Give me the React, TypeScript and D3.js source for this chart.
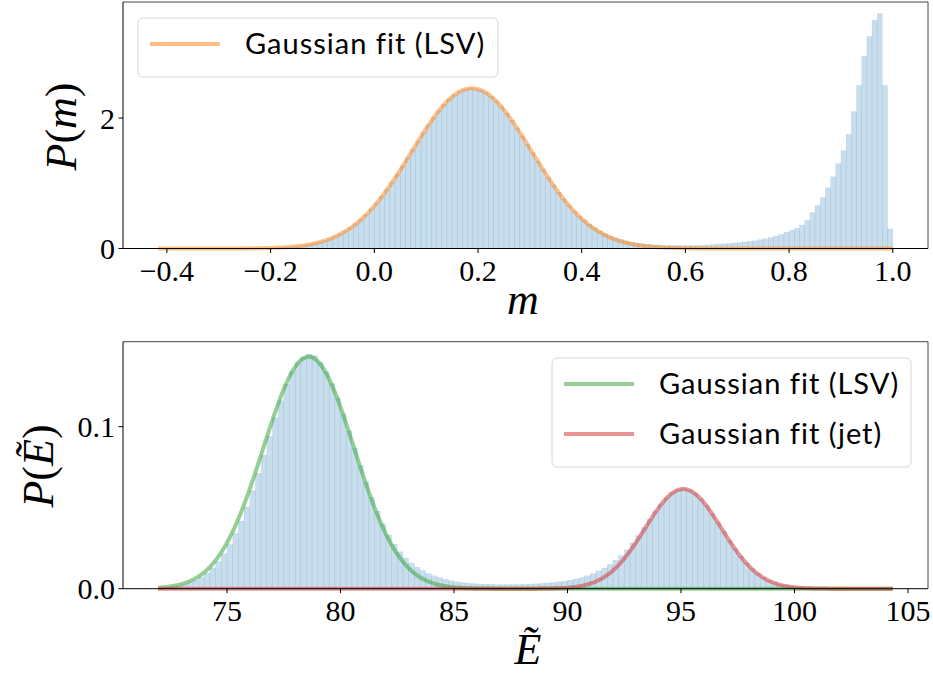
import React from 'react';
import * as d3 from 'd3';

// ---------- data ----------
// Top panel: histogram of m (bin width 0.01 from -0.42)
const mBinStart = -0.42;
const mBinWidth = 0.01;
const mDensity = [
  0, 0, 0, 0, 0, 0, 0, 0, 0, 0, 0, 0, 0, 0, 0, 0,
  0.002, 0.002, 0.003, 0.004, 0.006, 0.008, 0.010, 0.013, 0.018, 0.023,
  0.030, 0.039, 0.049, 0.062, 0.079, 0.098, 0.122, 0.150, 0.184, 0.223,
  0.269, 0.321, 0.381, 0.449, 0.524, 0.608, 0.700, 0.799, 0.907, 1.021,
  1.141, 1.265, 1.393, 1.521, 1.649, 1.775, 1.896, 2.010, 2.116, 2.210,
  2.291, 2.357, 2.406, 2.440, 2.455, 2.450, 2.428, 2.389, 2.332, 2.260,
  2.173, 2.075, 1.966, 1.849, 1.726, 1.599, 1.470, 1.341, 1.215, 1.092,
  0.975, 0.863, 0.759, 0.662, 0.573, 0.493,
  0.440, 0.376, 0.319, 0.269, 0.229, 0.192, 0.162, 0.137, 0.116, 0.099,
  0.085, 0.074, 0.065, 0.058, 0.053, 0.049, 0.046, 0.044, 0.044, 0.043,
  0.044, 0.045, 0.047, 0.051, 0.055, 0.060, 0.065, 0.070, 0.077, 0.085,
  0.092, 0.100, 0.110, 0.120, 0.135, 0.150, 0.170, 0.190, 0.215, 0.250,
  0.280, 0.310, 0.360, 0.430, 0.550, 0.660, 0.780, 0.930, 1.100, 1.300,
  1.500, 1.750, 2.100, 2.500, 2.950, 3.250, 3.500, 3.600, 2.500, 0.300,
];
// Gaussian fit (LSV) for m: [mean, sigma, amplitude], drawn over [min, max]
const mFitLSV = [0.188, 0.1155, 2.455];
const mFitRange = [-0.417, 1.0];
const mTicks = [-0.4, -0.2, 0.0, 0.2, 0.4, 0.6, 0.8, 1.0];
const mYTicks = [0, 2];

// Bottom panel: histogram of E~ (bin width 0.25 from 72.0)
const eBinStart = 72.0;
const eBinWidth = 0.25;
const eDensity = [
  0.0005, 0.0008, 0.0012, 0.0018,
  0.0026, 0.0037, 0.0052, 0.0072,
  0.0097, 0.0129, 0.0168, 0.0216,
  0.0273, 0.0340, 0.0418, 0.0505,
  0.0605, 0.0712, 0.0825, 0.0940,
  0.1055, 0.1160, 0.1262, 0.1340,
  0.1395, 0.1430, 0.1448, 0.1438,
  0.1398, 0.1340, 0.1266, 0.1178,
  0.1080, 0.0975, 0.0868, 0.0762,
  0.0660, 0.0565, 0.0478, 0.0400,
  0.0332, 0.0275, 0.0228, 0.0190,
  0.0158, 0.0133, 0.0112, 0.0095,
  0.0080, 0.0068, 0.0058, 0.0050,
  0.0043, 0.0038, 0.0034, 0.0031,
  0.0029, 0.0027, 0.0026, 0.0025,
  0.0025, 0.0025, 0.0025, 0.0026,
  0.0027, 0.0028, 0.0030, 0.0032,
  0.0035, 0.0038, 0.0042, 0.0047,
  0.0053, 0.0060, 0.0068, 0.0080,
  0.0093, 0.0110, 0.0128, 0.0150,
  0.0175, 0.0205, 0.0240, 0.0282,
  0.0328, 0.0378, 0.0428, 0.0477,
  0.0524, 0.0563, 0.0594, 0.0612,
  0.0618, 0.0609, 0.0588, 0.0555,
  0.0513, 0.0463, 0.0409, 0.0354,
  0.0299, 0.0248, 0.0201, 0.0160,
  0.0125, 0.0095, 0.0071, 0.0052,
  0.0038, 0.0027, 0.0019, 0.0013,
  0.0009, 0.0006, 0.0004, 0.0003,
  0.0002, 0.0001, 0.0001, 0.0001,
  0.0001, 0, 0, 0,
  0, 0, 0, 0,
  0,
];
const eFitLSV = [78.6, 2.0, 0.1432];
const eFitJet = [95.1, 1.68, 0.0615];
const eFitRange = [71.97, 104.33];
const eTicks = [75, 80, 85, 90, 95, 100, 105];
const eYTicks = [0.0, 0.1];

const legendTop = ['Gaussian fit (LSV)'];
const legendBottom = ['Gaussian fit (LSV)', 'Gaussian fit (jet)'];

// ---------- styles ----------
const HIST_FILL = '#1f77b4';
const C_ORANGE = '#ff7f0e';
const C_GREEN = '#2ca02c';
const C_RED = '#d62728';
const SERIF = '"Liberation Serif", "DejaVu Serif", serif';
const SANS = 'Lato, "Open Sans", "DejaVu Sans", sans-serif';

function gaussPoints(params: number[], range: number[], n = 500) {
  const [mu, sd, amp] = params;
  const pts: [number, number][] = [];
  for (let i = 0; i <= n; i++) {
    const x = range[0] + ((range[1] - range[0]) * i) / n;
    pts.push([x, amp * Math.exp(-((x - mu) * (x - mu)) / (2 * sd * sd))]);
  }
  return pts;
}

type PanelProps = {
  x: d3.ScaleLinear<number, number>;
  y: d3.ScaleLinear<number, number>;
  binStart: number;
  binWidth: number;
  density: number[];
  fits: { params: number[]; color: string }[];
  fitRange: number[];
  xTicks: number[];
  xFmt: (v: number) => string;
  yTicks: number[];
  yFmt: (v: number) => string;
};

function Panel(p: PanelProps) {
  const [x0, x1] = p.x.range();
  const [yb, yt] = p.y.range();
  const line = d3
    .line<[number, number]>()
    .x((d) => p.x(d[0]))
    .y((d) => p.y(d[1]));
  return (
    <g>
      {p.density.map((v, i) => {
        const a = p.binStart + i * p.binWidth;
        const b = a + p.binWidth;
        const top = p.y(v);
        return (
          <rect
            key={i}
            x={p.x(a)}
            y={top}
            width={p.x(b) - p.x(a)}
            height={Math.max(0, yb - top)}
            fill={HIST_FILL}
            fillOpacity={0.24}
            stroke={HIST_FILL}
            strokeOpacity={0.12}
            strokeWidth={0.6}
          />
        );
      })}
      {p.fits.map((f, i) => (
        <path
          key={i}
          d={line(gaussPoints(f.params, p.fitRange)) || ''}
          fill="none"
          stroke={f.color}
          strokeOpacity={0.5}
          strokeWidth={4}
          strokeLinejoin="round"
        />
      ))}
      {/* spines */}
      <line x1={x0} x2={x1} y1={yt} y2={yt} stroke="#444" strokeWidth={1} />
      <line x1={x1} x2={x1} y1={yt} y2={yb} stroke="#444" strokeWidth={1} />
      <line x1={x0} x2={x0} y1={yt} y2={yb} stroke="#000" strokeWidth={1} />
      <line x1={x0} x2={x1} y1={yb} y2={yb} stroke="#000" strokeWidth={1} />
      {p.xTicks.map((t) => (
        <g key={'x' + t}>
          <line x1={p.x(t)} x2={p.x(t)} y1={yb} y2={yb + 4.5} stroke="#000" strokeWidth={1} />
          <text
            x={p.x(t)}
            y={yb + 32}
            textAnchor="middle"
            fontFamily={SERIF}
            fontSize={30}
            fill="#000"
          >
            {p.xFmt(t)}
          </text>
        </g>
      ))}
      {p.yTicks.map((t) => (
        <g key={'y' + t}>
          <line x1={x0 - 4.5} x2={x0} y1={p.y(t)} y2={p.y(t)} stroke="#000" strokeWidth={1} />
          <text
            x={x0 - 8}
            y={p.y(t) + 10.5}
            textAnchor="end"
            fontFamily={SERIF}
            fontSize={30}
            fill="#000"
          >
            {p.yFmt(t)}
          </text>
        </g>
      ))}
    </g>
  );
}

function Legend({
  x,
  y,
  w,
  h,
  labels,
  colors,
}: {
  x: number;
  y: number;
  w: number;
  h: number;
  labels: string[];
  colors: string[];
}) {
  return (
    <g>
      <rect
        x={x}
        y={y}
        width={w}
        height={h}
        rx={5}
        ry={5}
        fill="#fff"
        fillOpacity={0.8}
        stroke="#d6d6d6"
        strokeWidth={1}
      />
      {labels.map((l, i) => {
        const cy = y + 26 + i * 50;
        return (
          <g key={i}>
            <line
              x1={x + 12}
              x2={x + 82}
              y1={cy}
              y2={cy}
              stroke={colors[i]}
              strokeOpacity={0.5}
              strokeWidth={4}
            />
            <text
              x={x + 107}
              y={cy + 10}
              fontFamily={SANS}
              fontSize={29}
              letterSpacing={1}
              fill="#000"
            >
              {l}
            </text>
          </g>
        );
      })}
    </g>
  );
}

export default function App() {
  const topX = d3.scaleLinear().domain([-0.48467, 1.06789]).range([123, 928]);
  const topY = d3.scaleLinear().domain([0, 3.778]).range([248.5, 2]);
  const botX = d3.scaleLinear().domain([70.419, 105.881]).range([123, 928]);
  const botY = d3.scaleLinear().domain([0, 0.15247]).range([588.7, 341.7]);

  const fmt1 = (v: number) => {
    const s = Math.abs(v).toFixed(1);
    return v < -1e-9 ? '\u2212' + s : s;
  };

  return (
    <svg
      width={933}
      height={674}
      viewBox="0 0 933 674"
      style={{ position: 'absolute', left: 0, top: 0, background: '#fff' }}
    >
      <rect x={0} y={0} width={933} height={674} fill="#fff" />
      <Panel
        x={topX}
        y={topY}
        binStart={mBinStart}
        binWidth={mBinWidth}
        density={mDensity}
        fits={[{ params: mFitLSV, color: C_ORANGE }]}
        fitRange={mFitRange}
        xTicks={mTicks}
        xFmt={fmt1}
        yTicks={mYTicks}
        yFmt={(v) => String(v)}
      />
      <Legend x={138} y={18} w={360} h={59} labels={legendTop} colors={[C_ORANGE]} />

      <Panel
        x={botX}
        y={botY}
        binStart={eBinStart}
        binWidth={eBinWidth}
        density={eDensity}
        fits={[
          { params: eFitLSV, color: C_GREEN },
          { params: eFitJet, color: C_RED },
        ]}
        fitRange={eFitRange}
        xTicks={eTicks}
        xFmt={(v) => String(v)}
        yTicks={eYTicks}
        yFmt={(v) => v.toFixed(1)}
      />
      <Legend
        x={552}
        y={358}
        w={359}
        h={109}
        labels={legendBottom}
        colors={[C_GREEN, C_RED]}
      />

      {/* axis labels */}
      <text
        transform="translate(76,126.5) rotate(-90)"
        textAnchor="middle"
        fontFamily={SERIF}
        fontSize={44}
        fill="#000"
      >
        <tspan fontStyle="italic">P</tspan>
        <tspan>(</tspan>
        <tspan fontStyle="italic">m</tspan>
        <tspan>)</tspan>
      </text>
      <text x={523} y={314} textAnchor="middle" fontFamily={SERIF} fontSize={44} fontStyle="italic" fill="#000">
        m
      </text>
      <text
        transform="translate(53,466) rotate(-90)"
        textAnchor="middle"
        fontFamily={SERIF}
        fontSize={44}
        fill="#000"
      >
        <tspan fontStyle="italic">P</tspan>
        <tspan>(</tspan>
        <tspan fontStyle="italic">{'\u1EBC'}</tspan>
        <tspan>)</tspan>
      </text>
      <text x={528} y={664} textAnchor="middle" fontFamily={SERIF} fontSize={44} fontStyle="italic" fill="#000">
        {'\u1EBC'}
      </text>
    </svg>
  );
}
